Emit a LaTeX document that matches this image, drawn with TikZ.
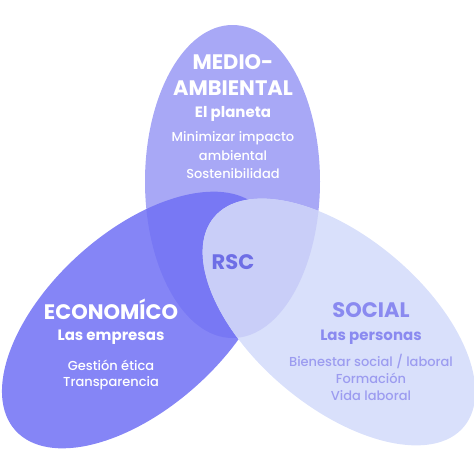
\documentclass[tikz,border=0pt]{standalone}
\usepackage{fontspec}
\setmainfont{Poppins}[UprightFont={* Medium},BoldFont={* Bold}]
\usetikzlibrary{shapes.geometric}
\definecolor{medio}{HTML}{A8A8F6}
\definecolor{econ}{HTML}{7070F4}
\definecolor{soc}{HTML}{D9E0FB}
\definecolor{rscFill}{HTML}{C9CEF8}
\definecolor{socText}{HTML}{8A8AF0}
\definecolor{socLight}{HTML}{9C9CF0}
\definecolor{rscText}{HTML}{6E6EE6}
\begin{document}
\begin{tikzpicture}[x=1pt,y=-1pt,
    blob/.style={ellipse,inner sep=0pt},
    big/.style={font=\bfseries\fontsize{21}{21}\selectfont},
    sub/.style={font=\bfseries\fontsize{15}{15}\selectfont},
    small/.style={font=\fontsize{13}{13}\selectfont}]
    \useasboundingbox (0,0) rectangle (474,474);

    % the three circles
    \node[blob,fill=medio,minimum width=175pt,minimum height=313pt](medio) at (232.5,181.5) {};
    \node[blob,fill=econ,fill opacity=0.85,minimum width=330pt,minimum height=176pt,rotate=42](eco) at (138,320) {};
    \node[blob,fill=soc,minimum width=326pt,minimum height=170pt,rotate=-40](soc) at (339,322) {};

    % overlap of medio and social
    \begin{scope}
        \clip[rotate around={-40:(soc.center)}] (soc.center) ellipse [x radius=163pt,y radius=85pt];
        \fill[rscFill] (medio.center) ellipse [x radius=87.5pt,y radius=156.5pt];
    \end{scope}

    % top
    \node[big,white](m1) at (233,62) {MEDIO-};
    \node[big,white](m2) at (233,88) {AMBIENTAL};
    \node[sub,white](m3) at (233,114) {El planeta};
    \node[small,white](m4) at (233,138) {Minimizar impacto};
    \node[small,white](m5) at (233,156) {ambiental};
    \node[small,white](m6) at (233,174) {Sostenibilidad};

    % left
    \node[big,white](e1) at (111,309) {ECONOMÍCO};
    \node[sub,white](e2) at (111,337) {Las empresas};
    \node[small,white](e3) at (111,365) {Gestión ética};
    \node[small,white](e4) at (111,383) {Transparencia};

    % right
    \node[big,socText](s1) at (371,310) {SOCIAL};
    \node[sub,socText](s2) at (371,337) {Las personas};
    \node[small,socLight](s3) at (371,361) {Bienestar social / laboral};
    \node[small,socLight](s4) at (371,378) {Formación};
    \node[small,socLight](s5) at (371,396) {Vida laboral};

    \node[big,rscText](rsc) at (233,262) {RSC};
\end{tikzpicture}
\end{document}
